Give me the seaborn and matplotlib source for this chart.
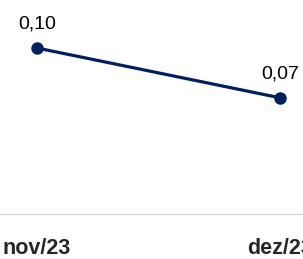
import pandas as pd
import seaborn as sns
import matplotlib.pyplot as plt

months = ["nov/23", "dez/23"]
values = [0.10, 0.07]
labels = ["0,10", "0,07"]

df = pd.DataFrame({"pos": range(len(months)), "value": values})

sns.set_style("white")
plt.rcParams['font.family'] = ['Liberation Sans', 'DejaVu Sans']

fig = plt.figure(figsize=(3.03, 2.59), dpi=100)
ax = fig.add_axes([0, 45 / 259, 1, 214 / 259])

sns.lineplot(data=df, x="pos", y="value", ax=ax, color="#002060",
             linewidth=2.3, marker="o", markersize=9, markeredgewidth=0)

for x, y, t in zip(df["pos"], df["value"], labels):
    ax.annotate(t, (x, y), xytext=(0, 11), textcoords="offset points",
                ha="center", va="bottom", fontsize=14, color="black")

# map x=0 to px 37 and x=1 to px 280
ax.set_xlim(-37 / 243, 1 + 23 / 243)
ax.set_ylim(0, 214 / 1660)
ax.set_xticks(df["pos"])
ax.set_xticklabels(months, fontsize=15.5, fontweight="bold")
ax.tick_params(axis="x", length=0, pad=17)
ax.set_yticks([])
ax.set_xlabel("")
ax.set_ylabel("")

for s in ["top", "left", "right"]:
    ax.spines[s].set_visible(False)
ax.spines["bottom"].set_color("#d9d9d9")
ax.spines["bottom"].set_linewidth(1.0)

fig.savefig("out.png", dpi=100)
